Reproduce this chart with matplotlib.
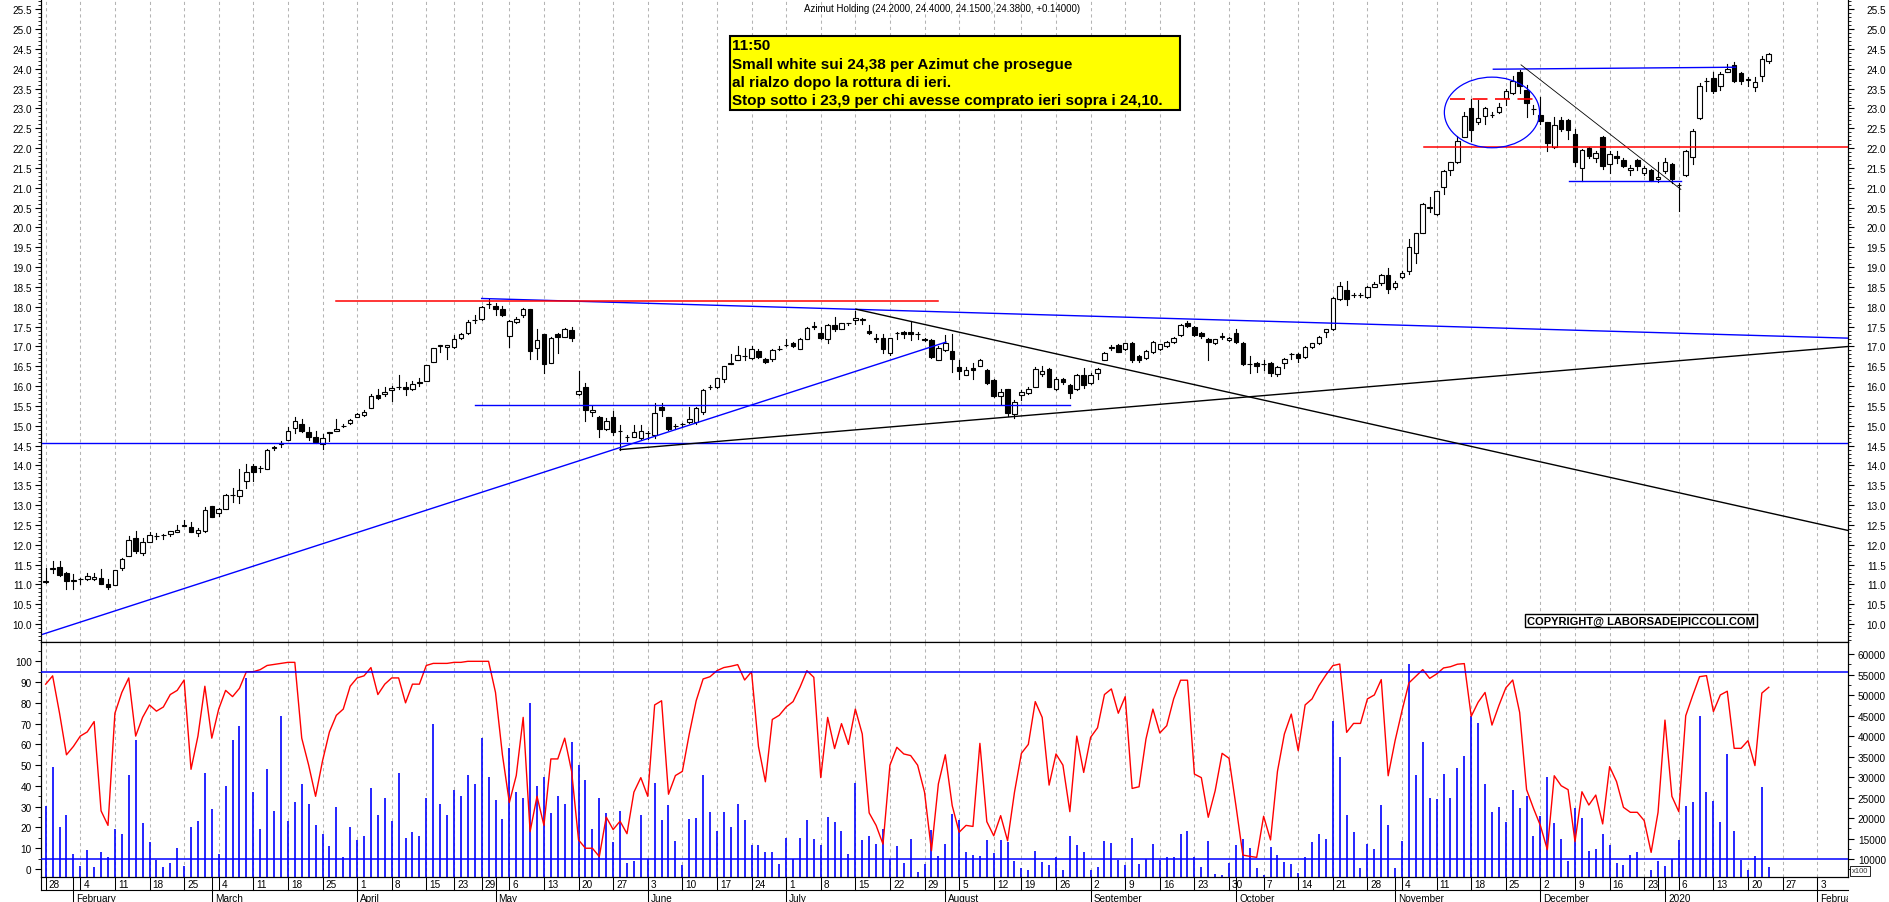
import numpy as np
import pandas as pd
import matplotlib
matplotlib.use("Agg")
import matplotlib.pyplot as plt
import matplotlib.transforms as mtrans
from matplotlib.patches import Rectangle, Ellipse
from matplotlib.ticker import FixedLocator, FormatStrFormatter, NullLocator

plt.rcParams['font.family'] = ['Liberation Sans', 'DejaVu Sans']

W, H, DPI = 1890, 903, 100

# trading calendar (Borsa Italiana holidays removed)
holidays = pd.to_datetime(['2019-04-19', '2019-04-22', '2019-05-01', '2019-08-15',
                           '2019-12-24', '2019-12-25', '2019-12-26', '2019-12-31',
                           '2020-01-01'])
days = pd.bdate_range('2019-01-28', '2020-02-14')
days = days[~days.isin(holidays)]

title = "Azimut Holding (24.2000, 24.4000, 24.1500, 24.3800, +0.14000)"
note = ["11:50",
        "Small white sui 24,38 per Azimut che prosegue",
        "al rialzo dopo la rottura di ieri.",
        "Stop sotto i 23,9 per chi avesse comprato ieri sopra i 24,10."]
copyright_txt = "COPYRIGHT@ LABORSADEIPICCOLI.COM"

opens = [
    11.05, 11.40, 11.43, 11.29, 11.10, 11.14, 11.14, 11.15, 11.17, 11.01,
    10.99, 11.41, 11.71, 12.18, 11.79, 12.08, 12.21, 12.25, 12.27, 12.32,
    12.48, 12.45, 12.30, 12.34, 12.97, 12.80, 12.91, 13.25, 13.23, 13.61,
    13.98, 13.94, 13.92, 14.45, 14.55, 14.65, 14.95, 15.05, 14.85, 14.73,
    14.54, 14.83, 14.87, 15.00, 15.06, 15.23, 15.27, 15.46, 15.77, 15.81,
    15.91, 15.98, 15.99, 15.94, 16.10, 16.13, 16.60, 17.02, 16.99, 16.99,
    17.22, 17.33, 17.66, 17.70, 18.06, 18.02, 17.95, 17.26, 17.62, 17.79,
    17.95, 16.97, 17.31, 16.59, 17.31, 17.24, 17.41, 15.81, 15.98, 15.35,
    15.23, 14.92, 15.21, 14.86, 14.72, 14.72, 14.70, 14.81, 14.78, 15.48,
    15.23, 15.00, 15.05, 15.09, 15.09, 15.34, 15.98, 15.98, 16.17, 16.57,
    16.67, 16.76, 16.72, 16.88, 16.69, 16.69, 16.93, 17.04, 17.08, 16.94,
    17.20, 17.50, 17.35, 17.18, 17.55, 17.45, 17.58, 17.67, 17.68, 17.39,
    17.20, 17.22, 16.84, 17.33, 17.36, 17.36, 17.32, 17.20, 17.16, 16.66,
    16.90, 16.88, 16.49, 16.29, 16.46, 16.52, 16.40, 16.15, 15.75, 15.92,
    15.31, 15.77, 15.83, 15.97, 16.30, 16.42, 15.93, 16.17, 16.03, 15.92,
    16.27, 16.08, 16.32, 16.67, 16.97, 17.04, 16.93, 17.09, 16.76, 16.72,
    16.86, 16.94, 17.00, 17.11, 17.28, 17.58, 17.49, 17.35, 17.20, 17.08,
    17.25, 17.16, 17.33, 17.09, 16.55, 16.59, 16.55, 16.59, 16.30, 16.59,
    16.81, 16.81, 16.74, 16.99, 17.08, 17.36, 17.43, 18.19, 18.42, 18.30,
    18.30, 18.26, 18.51, 18.59, 18.80, 18.50, 18.76, 18.90, 19.35, 19.87,
    20.50, 20.33, 21.02, 21.46, 21.64, 22.29, 23.00, 22.65, 22.80, 22.83,
    22.90, 23.26, 23.38, 23.93, 23.46, 22.98, 22.83, 22.65, 22.02, 22.72,
    22.72, 22.35, 21.51, 22.00, 21.74, 22.27, 21.61, 21.79, 21.71, 21.45,
    21.71, 21.37, 21.44, 21.22, 21.43, 21.61, 21.07, 21.32, 21.78, 22.76,
    23.70, 23.78, 23.56, 23.93, 24.10, 23.89, 23.73, 23.53, 23.83, 24.20]

highs = [
    11.42, 11.58, 11.58, 11.31, 11.27, 11.17, 11.28, 11.28, 11.38, 11.14,
    11.37, 11.66, 12.22, 12.36, 12.16, 12.32, 12.29, 12.28, 12.35, 12.51,
    12.62, 12.58, 12.42, 12.95, 12.99, 12.93, 13.28, 13.44, 13.92, 14.03,
    14.03, 13.98, 14.42, 14.49, 14.61, 14.98, 15.23, 15.18, 14.96, 14.88,
    14.80, 14.85, 15.18, 15.04, 15.18, 15.33, 15.41, 15.79, 15.92, 15.98,
    16.00, 16.28, 16.10, 16.14, 16.20, 16.53, 16.97, 17.03, 17.03, 17.30,
    17.35, 17.66, 17.80, 18.03, 18.19, 18.09, 18.01, 17.67, 17.74, 17.98,
    17.95, 17.43, 17.31, 17.24, 17.35, 17.46, 17.50, 16.38, 16.08, 15.49,
    15.25, 15.19, 15.37, 15.01, 14.78, 15.03, 15.01, 14.87, 15.58, 15.58,
    15.23, 15.05, 15.08, 15.48, 15.48, 15.93, 16.03, 16.20, 16.52, 16.80,
    17.00, 16.97, 17.00, 16.93, 16.72, 16.93, 17.01, 17.18, 17.12, 17.21,
    17.50, 17.62, 17.50, 17.56, 17.75, 17.60, 17.60, 17.89, 17.72, 17.53,
    17.31, 17.32, 17.22, 17.36, 17.38, 17.64, 17.37, 17.22, 17.18, 17.02,
    17.30, 17.31, 16.67, 16.48, 16.58, 16.68, 16.42, 16.17, 15.93, 15.93,
    15.66, 15.90, 15.97, 16.48, 16.51, 16.45, 16.24, 16.20, 16.05, 16.30,
    16.46, 16.32, 16.45, 16.86, 17.03, 17.06, 17.10, 17.11, 16.78, 16.90,
    17.14, 17.07, 17.14, 17.24, 17.56, 17.64, 17.51, 17.36, 17.22, 17.20,
    17.33, 17.24, 17.45, 17.11, 16.76, 16.61, 16.65, 16.61, 16.50, 16.71,
    16.84, 16.83, 17.01, 17.10, 17.27, 17.45, 18.25, 18.62, 18.66, 18.36,
    18.36, 18.53, 18.63, 18.82, 18.97, 18.65, 18.90, 19.70, 19.87, 20.62,
    20.78, 20.92, 21.45, 21.66, 22.30, 22.92, 23.24, 23.22, 23.03, 22.90,
    23.15, 23.48, 23.82, 23.98, 23.60, 23.10, 23.30, 22.67, 22.78, 22.78,
    22.74, 22.48, 21.98, 22.02, 21.94, 22.31, 21.92, 21.92, 21.74, 21.57,
    21.73, 21.54, 21.48, 21.66, 21.76, 21.63, 21.12, 21.95, 22.49, 23.64,
    23.77, 23.93, 23.93, 24.13, 24.16, 23.91, 23.80, 23.79, 24.33, 24.40]

lows = [
    11.04, 11.29, 11.22, 10.89, 10.89, 11.00, 11.12, 11.12, 11.00, 10.89,
    10.98, 11.37, 11.71, 11.80, 11.74, 12.08, 12.14, 12.15, 12.22, 12.32,
    12.47, 12.32, 12.21, 12.32, 12.71, 12.73, 12.91, 13.08, 13.06, 13.42,
    13.61, 13.83, 13.92, 14.40, 14.47, 14.65, 14.83, 14.85, 14.64, 14.56,
    14.41, 14.62, 14.87, 14.96, 15.04, 15.21, 15.26, 15.46, 15.67, 15.75,
    15.62, 15.94, 15.78, 15.91, 16.00, 16.13, 16.60, 16.86, 16.68, 16.97,
    17.18, 17.31, 17.58, 17.68, 17.98, 17.80, 17.78, 16.99, 17.58, 17.75,
    16.69, 16.69, 16.34, 16.59, 16.84, 17.24, 17.14, 15.77, 15.12, 15.24,
    14.72, 14.90, 14.78, 14.40, 14.61, 14.72, 14.66, 14.66, 14.69, 15.24,
    14.90, 14.92, 14.96, 15.06, 15.05, 15.30, 15.93, 15.95, 16.10, 16.55,
    16.67, 16.66, 16.69, 16.71, 16.58, 16.63, 16.90, 17.00, 16.98, 16.94,
    17.20, 17.43, 17.20, 17.08, 17.40, 17.44, 17.55, 17.57, 17.56, 17.31,
    17.12, 16.83, 16.79, 17.18, 17.22, 17.16, 17.18, 17.14, 16.70, 16.66,
    16.88, 16.35, 16.17, 16.27, 16.17, 16.50, 16.05, 15.72, 15.54, 15.24,
    15.20, 15.66, 15.81, 15.97, 16.25, 15.98, 15.90, 16.05, 15.71, 15.90,
    15.96, 16.06, 16.17, 16.65, 16.92, 16.85, 16.90, 16.60, 16.60, 16.68,
    16.84, 16.90, 16.98, 17.09, 17.26, 17.50, 17.27, 17.22, 16.66, 17.06,
    17.18, 17.14, 17.09, 16.54, 16.34, 16.36, 16.40, 16.25, 16.25, 16.45,
    16.69, 16.62, 16.72, 16.97, 17.06, 17.24, 17.41, 18.17, 18.05, 18.26,
    18.26, 18.22, 18.49, 18.55, 18.36, 18.46, 18.72, 18.82, 19.11, 19.85,
    20.39, 20.31, 20.85, 21.33, 21.62, 22.27, 22.19, 22.60, 22.62, 22.78,
    22.88, 23.08, 23.36, 23.40, 22.78, 22.86, 22.60, 21.93, 22.00, 22.42,
    22.24, 21.55, 21.17, 21.76, 21.65, 21.48, 21.38, 21.62, 21.52, 21.33,
    21.45, 21.33, 21.17, 21.15, 21.38, 21.12, 20.41, 21.30, 21.60, 22.74,
    23.43, 23.40, 23.46, 23.91, 23.68, 23.62, 23.56, 23.45, 23.70, 24.15]

closes = [
    11.08, 11.41, 11.25, 11.08, 11.12, 11.15, 11.21, 11.19, 11.01, 10.93,
    11.36, 11.63, 12.12, 11.84, 12.08, 12.24, 12.22, 12.26, 12.35, 12.38,
    12.49, 12.32, 12.38, 12.87, 12.71, 12.91, 13.26, 13.25, 13.38, 13.84,
    13.83, 13.93, 14.39, 14.47, 14.55, 14.87, 15.12, 14.87, 14.73, 14.58,
    14.69, 14.83, 14.93, 15.00, 15.15, 15.29, 15.36, 15.76, 15.69, 15.86,
    15.96, 15.98, 15.92, 16.05, 16.07, 16.53, 16.97, 17.02, 17.03, 17.18,
    17.31, 17.61, 17.67, 18.00, 18.07, 17.94, 17.79, 17.63, 17.70, 17.95,
    16.88, 17.16, 16.56, 17.22, 17.25, 17.43, 17.22, 15.87, 15.39, 15.41,
    14.91, 15.12, 14.84, 14.86, 14.72, 14.84, 14.87, 14.81, 15.33, 15.39,
    14.92, 15.00, 15.05, 15.18, 15.45, 15.90, 15.98, 16.20, 16.52, 16.57,
    16.78, 16.76, 16.93, 16.74, 16.62, 16.92, 16.93, 17.04, 17.01, 17.20,
    17.47, 17.50, 17.22, 17.54, 17.43, 17.58, 17.58, 17.73, 17.68, 17.33,
    17.20, 16.93, 17.22, 17.33, 17.32, 17.32, 17.32, 17.16, 16.74, 16.97,
    17.10, 16.69, 16.38, 16.40, 16.40, 16.66, 16.09, 15.75, 15.86, 15.33,
    15.60, 15.85, 15.93, 16.42, 16.38, 15.98, 16.17, 16.10, 15.82, 16.29,
    16.04, 16.29, 16.42, 16.84, 16.97, 16.87, 17.08, 16.66, 16.65, 16.88,
    17.11, 17.05, 17.11, 17.22, 17.53, 17.52, 17.29, 17.26, 17.11, 17.18,
    17.25, 17.22, 17.11, 16.56, 16.55, 16.52, 16.55, 16.32, 16.48, 16.69,
    16.81, 16.72, 16.99, 17.08, 17.25, 17.43, 18.23, 18.53, 18.19, 18.30,
    18.30, 18.51, 18.57, 18.80, 18.44, 18.61, 18.86, 19.52, 19.85, 20.59,
    20.50, 20.91, 21.43, 21.64, 22.19, 22.80, 22.46, 22.76, 23.01, 22.83,
    23.03, 23.43, 23.70, 23.56, 23.15, 22.98, 22.69, 22.13, 22.59, 22.48,
    22.46, 21.65, 21.96, 21.79, 21.87, 21.55, 21.85, 21.74, 21.55, 21.51,
    21.54, 21.49, 21.19, 21.28, 21.66, 21.22, 21.07, 21.93, 22.44, 23.57,
    23.70, 23.45, 23.86, 24.00, 23.70, 23.70, 23.73, 23.66, 24.25, 24.38]

# oscillator (0-100, left scale of the lower pane)
osc = [
    89, 93, 75, 55, 59, 64, 66, 71, 28, 21,
    75, 85, 92, 64, 73, 79, 76, 78, 84, 86,
    91, 48, 64, 88, 63, 77, 86, 83, 87, 95,
    95, 96, 98, 98.5, 99, 99.5, 99.5, 63, 50, 35,
    52, 66, 74, 77, 88, 92, 93, 97, 84, 89,
    92, 92, 80, 89, 89, 98, 99, 99, 99, 99.5,
    99.5, 100, 100, 100, 100, 85, 55, 32, 45, 73,
    18, 35, 21, 53, 53, 63, 47, 14, 10, 10,
    6, 25, 19, 23, 17, 37, 44, 35, 79, 81,
    36, 45, 47, 65, 81, 91.5, 92.6, 95.5, 97, 97.6,
    98.4, 91, 95, 59, 42, 72, 74, 78, 80.6, 87.5,
    95.5, 92.3, 44, 73, 58, 70, 60, 77, 65, 27,
    21, 12, 50, 58.6, 55.4, 54.6, 50, 37, 8.8, 41,
    55, 30.5, 17.7, 21, 20.5, 60.5, 22.8, 16, 25.7, 13.6,
    37, 55.7, 60, 80.6, 73, 40.4, 55.4, 50, 27.6, 64,
    46.5, 63.4, 68, 84, 86.7, 75, 83, 38.8, 39.6, 62.6,
    77, 65.5, 69, 81.9, 90.9, 90.9, 45.7, 44, 24.9, 37.7,
    55.7, 53.3, 30.5, 6.7, 6.1, 5.6, 25.4, 14, 47, 65,
    74.6, 57, 79, 81.9, 88.3, 93.4, 97.9, 98.7, 65.8, 70.1,
    70.1, 81.9, 83.8, 91.2, 44.9, 61.8, 76.2, 89.6, 92.8, 96,
    91.8, 93.9, 96.8, 97.4, 98.6, 98.9, 73.5, 80.3, 85, 69.3,
    78.7, 87.2, 91, 75.4, 38.2, 29.2, 20.9, 9.3, 44.9, 40.1,
    38.2, 13.2, 37.2, 30.8, 35.6, 21.7, 49.3, 42.1, 29.7, 27.3,
    27.3, 23.3, 8, 27.3, 71.7, 35, 27.6, 73.8, 83.5, 92.6,
    93.1, 75.8, 83.8, 85.6, 58.1, 58.1, 61.8, 49.8, 84.7, 87.5]

# volume (x100, right scale of the lower pane)
volume = [
    23000, 32400, 17700, 20700, 11100, 8300, 12100, 8100, 11600, 10600,
    17200, 16200, 30400, 39000, 18700, 14100, 9800, 8100, 9100, 12600,
    8300, 17700, 19200, 30900, 22300, 11100, 27800, 39000, 42500, 54200,
    26300, 17200, 31900, 21700, 45000, 19200, 23800, 28300, 23300, 18200,
    16200, 13100, 22800, 10600, 17700, 14700, 15700, 27300, 20700, 24800,
    19200, 30900, 15200, 16700, 15700, 24800, 43000, 23300, 20700, 26800,
    25300, 30400, 28300, 39500, 29900, 24300, 19700, 37000, 26300, 24800,
    48100, 27800, 29900, 21200, 25300, 23300, 38500, 32900, 29300, 17200,
    24800, 21200, 14100, 21700, 9100, 9600, 20700, 10100, 28500, 19400,
    23200, 14500, 8500, 19700, 20000, 30500, 21500, 16900, 21500, 17900,
    23400, 19500, 13400, 13400, 11800, 11800, 8800, 15100, 10100, 15100,
    19400, 14900, 13400, 20200, 19100, 16900, 11200, 28500, 14700, 15700,
    13600, 17300, 10100, 13100, 9000, 14900, 6900, 8800, 17100, 10700,
    13600, 21000, 19400, 11800, 11000, 10800, 14700, 11500, 14700, 14200,
    9600, 7900, 7400, 12000, 9300, 8500, 10400, 7400, 15500, 13400,
    11800, 7200, 8000, 14500, 13900, 9800, 8500, 15100, 8800, 10100,
    13600, 9800, 10400, 10500, 16100, 16800, 10400, 8000, 14400, 6300,
    6100, 9000, 13400, 14900, 12800, 7800, 6100, 13000, 11000, 9300,
    8800, 6500, 10400, 14200, 16100, 14900, 43700, 34800, 20700, 16700,
    7700, 13600, 12400, 23200, 18300, 7700, 14500, 57500, 30500, 38500,
    24800, 24600, 30700, 25000, 32100, 35100, 44800, 43200, 28300, 21400,
    22600, 19100, 26800, 22400, 25300, 15700, 20400, 29900, 18800, 14900,
    9600, 22400, 19900, 12000, 12400, 16100, 13400, 9000, 8500, 11000,
    11800, 5500, 7400, 9600, 8400, 10100, 14700, 23000, 23800, 44900,
    26400, 24200, 19100, 35600, 16900, 9800, 7200, 10800, 27600, 8000]

# drawn lines: (day index start, price start, day index end, price end)
blue_lines = [(-0.7, 9.73, 130.1, 17.11), (-0.7, 14.57, 260.5, 14.57),
              (62, 15.53, 148, 15.53), (63, 18.21, 260.5, 17.21),
              (209.2, 23.99, 244.2, 24.04), (220.2, 21.18, 236.3, 21.18)]
black_lines = [(117.1, 17.94, 260.5, 12.36), (83, 14.40, 260.5, 17.0)]
red_lines = [(42, 18.15, 129, 18.15), (199.2, 22.02, 260.5, 22.02)]
thin_line = (213.2, 24.10, 236.3, 20.96)
red_dash = (203, 23.25, 215.4, 23.25)
ellipse = (209.0, 22.90, 13.76, 1.78)
osc_levels = [95, 5]

n = len(closes)
x = np.arange(n)
XL = (-0.68, 260.45)
GRID = '#b4b4b4'


def fy(px):
    return 1 - px / H


fig = plt.figure(figsize=(W / DPI, H / DPI), dpi=DPI)
ax = fig.add_axes([41 / W, fy(643), (1848 - 41) / W, 643 / H])
axr = ax.twinx()
ax2 = fig.add_axes([41 / W, fy(878), (1848 - 41) / W, (878 - 643) / H])
axo = ax2.twinx()
ax2.yaxis.tick_right()
axo.yaxis.tick_left()

# week starts and month starts on the trading-day axis
week_starts, month_starts = [], []
for i in range(len(days)):
    if i > XL[1]:
        break
    if i == 0 or days[i].weekday() < days[i - 1].weekday():
        week_starts.append(i)
    if i > 0 and days[i].month != days[i - 1].month:
        month_starts.append(i)
no_grid = [pd.Timestamp('2019-12-30')]

for w in week_starts:
    if days[w] in no_grid:
        continue
    ax.axvline(w, color=GRID, lw=0.75, ls=(0, (3, 3)), zorder=0)
    ax2.axvline(w, color=GRID, lw=0.75, ls=(0, (3, 3)), zorder=0)

# candles
for i in x:
    o, h, l, c = opens[i], highs[i], lows[i], closes[i]
    ax.plot([i, i], [l, h], color='black', lw=0.8, zorder=2)
    face = 'white' if c >= o else 'black'
    ax.add_patch(Rectangle((i - 0.33, min(o, c)), 0.66, max(abs(c - o), 0.005),
                           fc=face, ec='black', lw=0.8, zorder=3))

for (a0, p0, a1, p1) in blue_lines:
    ax.plot([a0, a1], [p0, p1], color='#0000ff', lw=1.0, zorder=4)
for (a0, p0, a1, p1) in black_lines:
    ax.plot([a0, a1], [p0, p1], color='black', lw=1.0, zorder=4)
for (a0, p0, a1, p1) in red_lines:
    ax.plot([a0, a1], [p0, p1], color='#ff0000', lw=1.1, zorder=5)
ax.plot(thin_line[::2], thin_line[1::2], color='black', lw=0.6, zorder=4)
ax.plot(red_dash[::2], red_dash[1::2], color='#ff0000', lw=1.2, ls=(0, (9, 4.5)), zorder=5)
ax.add_patch(Ellipse(ellipse[:2], ellipse[2], ellipse[3], fill=False, ec='#0000ff', lw=0.9, zorder=5))

# lower pane
vmin, vmax = 5610, 62927
ax2.vlines(x, vmin, volume, color='#0000ff', lw=1.2, zorder=2)
axo.plot(x, osc, color='#ff0000', lw=1.0, zorder=3)
for lev in osc_levels:
    axo.axhline(lev, color='#0000ff', lw=1.1, zorder=4)

# axes cosmetics
for a in (ax, axr, ax2, axo):
    a.set_xlim(*XL)
    a.xaxis.set_major_locator(NullLocator())
    a.xaxis.set_minor_locator(NullLocator())
    for s in a.spines.values():
        s.set_linewidth(0.8)
for a in (ax, axr):
    a.set_ylim(9.55, 25.76)
    a.yaxis.set_major_locator(FixedLocator(np.arange(10.0, 25.51, 0.5)))
    a.yaxis.set_minor_locator(FixedLocator(np.arange(9.6, 25.75, 0.1)))
    a.yaxis.set_major_formatter(FormatStrFormatter('%.1f'))
    a.spines['top'].set_visible(False)
ax2.set_ylim(vmin, vmax)
ax2.yaxis.set_major_locator(FixedLocator(np.arange(10000, 60001, 5000)))
ax2.yaxis.set_minor_locator(FixedLocator(np.arange(7500, 62500, 2500)))
ax2.yaxis.set_major_formatter(FormatStrFormatter('%d'))
axo.set_ylim(-3.85, 109.3)
axo.yaxis.set_major_locator(FixedLocator(np.arange(0, 101, 10)))
axo.yaxis.set_minor_locator(FixedLocator(np.arange(-5, 109, 5)))

for a, pad in ((ax, 2.2), (axo, 2.2), (axr, 22.9), (ax2, 22.9)):
    a.tick_params(axis='y', which='major', direction='out', length=4.5, width=0.8,
                  labelsize=7.2, pad=pad, colors='black')
    a.tick_params(axis='y', which='minor', direction='out', length=2.2, width=0.6)
plt.setp(axr.get_yticklabels(), ha='right')
plt.setp(ax2.get_yticklabels(), ha='right')

# date rows under the lower pane
trans = mtrans.blended_transform_factory(ax2.transData, fig.transFigure)
clip = mtrans.TransformedBbox(mtrans.Bbox.from_extents(41 / W, 0, 1848 / W, 1), fig.transFigure)
ax2.plot(XL, [fy(891), fy(891)], transform=trans, color='black', lw=0.8, clip_on=False)
ax2.plot([XL[0], XL[0]], [fy(878), fy(891)], transform=trans, color='black', lw=0.8, clip_on=False)
for w in week_starts:
    ax2.plot([w, w], [fy(878), fy(891)], transform=trans, color='black', lw=0.75, clip_on=False)
    if days[w] in no_grid:
        continue
    ax2.text(w + 0.45, fy(888.5), str(days[w].day), transform=trans, fontsize=7.2,
             ha='left', va='baseline', clip_on=False)
for m in month_starts:
    ax2.plot([m, m], [fy(878), fy(903)], transform=trans, color='black', lw=0.75, clip_on=False)
    name = str(days[m].year) if days[m].month == 1 else days[m].strftime('%B')
    t = ax2.text(m + 0.45, fy(902.5), name, transform=trans, fontsize=7.2,
                 ha='left', va='baseline')
    t.set_clip_on(True)
    t.set_clip_box(clip)

# texts
fig.text(942 / W, fy(9), title, fontsize=7.0, ha='center', va='center')
fig.patches.append(Rectangle((729.8 / W, fy(111)), 450 / W, 74.3 / H, transform=fig.transFigure,
                             fc='#ffff00', ec='black', lw=1.5, zorder=6))
for k, line in enumerate(note):
    fig.text(732 / W, fy(50.5 + 18 * k), line, fontsize=11.0, fontweight='bold',
             ha='left', va='baseline', zorder=7)
fig.text(1641 / W, fy(621.5), copyright_txt, fontsize=8, fontweight='bold', ha='center',
         va='center', bbox=dict(boxstyle='square,pad=0.15', fc='white', ec='black', lw=1.0))
fig.text(1860 / W, fy(872), 'x100', fontsize=5.5, ha='center', va='center', color='#333333',
         bbox=dict(boxstyle='square,pad=0.2', fc='white', ec='black', lw=0.6))

fig.savefig('out.png', dpi=DPI)
